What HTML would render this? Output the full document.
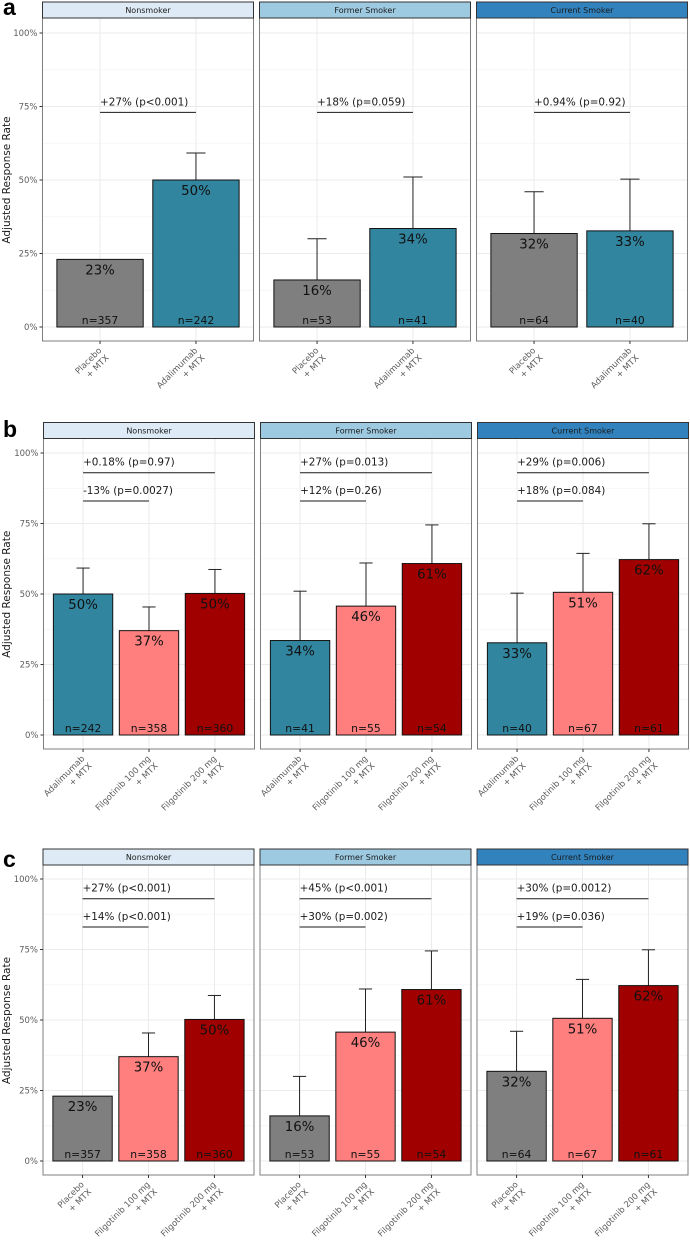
<!DOCTYPE html>
<html>
<head>
<meta charset="utf-8">
<title>Adjusted Response Rate by Smoking Status</title>
<style>
html,body{margin:0;padding:0;background:#fff;width:690px;height:1240px;overflow:hidden}
svg{display:block}
text{font-family:"DejaVu Sans","Liberation Sans",sans-serif}
</style>
</head>
<body>
<svg id="chart" xmlns="http://www.w3.org/2000/svg" width="690" height="1240" viewBox="0 0 690 1240"></svg>
<script>
const facets = ['Nonsmoker', 'Former Smoker', 'Current Smoker'];
const yTicks = [0, 25, 50, 75, 100];
const yMinorTicks = [12.5, 37.5, 62.5, 87.5];
const yTitle = 'Adjusted Response Rate';

const aLetter = 'a';
const aTreatments = ['Placebo', 'Adalimumab'];
const aValues = [[23, 50], [16, 33.5], [31.8, 32.7]];
const aUpper = [[null, 59.2], [30, 51], [46, 50.3]];
const aCounts = [[357, 242], [53, 41], [64, 40]];
const aCompLevels = [73];
const aCompEnds = [1];
const aCompText = [['+27% (p<0.001)'], ['+18% (p=0.059)'], ['+0.94% (p=0.92)']];

const bLetter = 'b';
const bTreatments = ['Adalimumab', 'Filgotinib 100 mg', 'Filgotinib 200 mg'];
const bValues = [[50, 37, 50.2], [33.5, 45.7, 60.8], [32.7, 50.6, 62.2]];
const bUpper = [[59.2, 45.4, 58.7], [51, 61, 74.5], [50.3, 64.4, 74.9]];
const bCounts = [[242, 358, 360], [41, 55, 54], [40, 67, 61]];
const bCompLevels = [93, 83];
const bCompEnds = [2, 1];
const bCompText = [['+0.18% (p=0.97)', '-13% (p=0.0027)'], ['+27% (p=0.013)', '+12% (p=0.26)'], ['+29% (p=0.006)', '+18% (p=0.084)']];

const cLetter = 'c';
const cTreatments = ['Placebo', 'Filgotinib 100 mg', 'Filgotinib 200 mg'];
const cValues = [[23, 37, 50.2], [16, 45.7, 60.8], [31.8, 50.6, 62.2]];
const cUpper = [[null, 45.4, 58.7], [30, 61, 74.5], [46, 64.4, 74.9]];
const cCounts = [[357, 358, 360], [53, 55, 54], [64, 67, 61]];
const cCompLevels = [93, 83];
const cCompEnds = [2, 1];
const cCompText = [['+27% (p<0.001)', '+14% (p<0.001)'], ['+45% (p<0.001)', '+30% (p=0.002)'], ['+30% (p=0.0012)', '+19% (p=0.036)']];

const facetFills = {'Nonsmoker': '#deebf7', 'Former Smoker': '#9ecae1', 'Current Smoker': '#3182bd'};
const barFills = {'Placebo': '#7f7f7f', 'Adalimumab': '#31859f', 'Filgotinib 100 mg': '#ff7f7f', 'Filgotinib 200 mg': '#a00000'};

const root = document.getElementById('chart');
const NS = 'http://www.w3.org/2000/svg';

function mk(tag, attrs, parent) {
  const e = document.createElementNS(NS, tag);
  for (const k in attrs) e.setAttribute(k, attrs[k]);
  parent.appendChild(e);
  return e;
}
function slug(s) {
  return s.toLowerCase().replace(/[^a-z0-9]+/g, '-');
}
function makeX(left, width, count) {
  const unit = width / (count - 1 + 1.2);
  const fn = function (i) { return left + (i + 0.6) * unit; };
  fn.unit = unit;
  return fn;
}
function makeY(y100, y0) {
  return function (v) { return y0 + (y100 - y0) * v / 100; };
}

function drawRow(cfg) {
  const y = makeY(cfg.y100, cfg.y0);
  const row = mk('g', {}, root);
  
  

  const letter = mk('text', {x: cfg.letterX, y: cfg.letterY, 'font-size': 23, 'font-weight': 'bold', fill: '#000', style: 'font-family:"Liberation Sans",sans-serif'}, row);
  letter.textContent = cfg.letter;
  
  

  const midY = (cfg.stripTop + cfg.bottom) / 2 + 8.5;
  const title = mk('text', {x: 0, y: 0, 'font-size': 10.5, fill: '#1a1a1a', 'text-anchor': 'middle', transform: 'translate(10,' + midY + ') rotate(-90)'}, row);
  title.textContent = yTitle;
  
  

  facets.forEach(function (facet, f) {
    const left = cfg.lefts[f];
    const W = 211;
    const x = makeX(left, W, cfg.treatments.length);
    const g = mk('g', {}, row);
    
    

    yMinorTicks.forEach(function (t) {
      const l = mk('line', {x1: left, x2: left + W, y1: y(t), y2: y(t), stroke: '#f3f3f3', 'stroke-width': 0.7}, g);
      
      
    });
    yTicks.forEach(function (t) {
      const l = mk('line', {x1: left, x2: left + W, y1: y(t), y2: y(t), stroke: '#ebebeb', 'stroke-width': 1}, g);
      
      
    });
    cfg.treatments.forEach(function (tr, i) {
      const l = mk('line', {x1: x(i), x2: x(i), y1: cfg.stripBottom, y2: cfg.bottom, stroke: '#ebebeb', 'stroke-width': 1}, g);
      
      
    });

    cfg.treatments.forEach(function (tr, i) {
      const v = cfg.values[f][i];
      const up = cfg.upper[f][i];
      const bw = 0.9 * x.unit;
      const cap = 0.2 * x.unit;
      if (up !== null) {
        const s = mk('line', {x1: x(i), x2: x(i), y1: y(v), y2: y(up), stroke: '#222', 'stroke-width': 1}, g);
        
        
        const c = mk('line', {x1: x(i) - cap / 2, x2: x(i) + cap / 2, y1: y(up), y2: y(up), stroke: '#222', 'stroke-width': 1}, g);
        
        
      }
      const b = mk('rect', {x: x(i) - bw / 2, y: y(v), width: bw, height: y(0) - y(v), fill: barFills[tr], stroke: '#111', 'stroke-width': 1}, g);
      
      

      const pct = mk('text', {x: x(i), y: y(v) + 15, 'font-size': 13.3, fill: '#111', 'text-anchor': 'middle'}, g);
      pct.textContent = Math.round(v) + '%';
      
      

      const n = mk('text', {x: x(i), y: y(0) - 3, 'font-size': 10.8, fill: '#111', 'text-anchor': 'middle'}, g);
      n.textContent = 'n=' + cfg.counts[f][i];
      
      
    });

    cfg.compLevels.forEach(function (lev, k) {
      const end = cfg.compEnds[k];
      const l = mk('line', {x1: x(0), x2: x(end), y1: y(lev), y2: y(lev), stroke: '#1a1a1a', 'stroke-width': 1}, g);
      
      
      const t = mk('text', {x: x(0), y: y(lev) - 7, 'font-size': 10.4, fill: '#1a1a1a'}, g);
      t.textContent = cfg.compText[f][k];
      
      
    });

    const border = mk('rect', {x: left, y: cfg.stripBottom, width: W, height: cfg.bottom - cfg.stripBottom, fill: 'none', stroke: '#7f7f7f', 'stroke-width': 1}, g);
    
    

    const strip = mk('rect', {x: left, y: cfg.stripTop, width: W, height: cfg.stripBottom - cfg.stripTop, fill: facetFills[facet], stroke: '#333', 'stroke-width': 1}, g);
    
    

    const st = mk('text', {x: left + W / 2, y: cfg.stripBottom - 5, 'font-size': 8, fill: '#1a1a1a', 'text-anchor': 'middle'}, g);
    st.textContent = facet;
    
    

    cfg.treatments.forEach(function (tr, i) {
      const tk = mk('line', {x1: x(i), x2: x(i), y1: cfg.bottom, y2: cfg.bottom + 3, stroke: '#333', 'stroke-width': 1}, g);
      
      
      const ax = x(i) + 2;
      const ay = cfg.bottom + 10;
      const t1 = mk('text', {x: 0, y: 0, 'font-size': 8.5, fill: '#5c5c5c', 'text-anchor': 'end', transform: 'translate(' + ax + ',' + ay + ') rotate(-45)'}, g);
      t1.textContent = tr;
      
      
      const t2 = mk('text', {x: 0, y: 0, 'font-size': 8.5, fill: '#5c5c5c', 'text-anchor': 'end', transform: 'translate(' + (ax + 7.3) + ',' + (ay + 7.3) + ') rotate(-45)'}, g);
      t2.textContent = '+ MTX';
      
      
    });

    if (f === 0) {
      yTicks.forEach(function (t) {
        const tk = mk('line', {x1: left - 3, x2: left, y1: y(t), y2: y(t), stroke: '#333', 'stroke-width': 1}, g);
        
        
        const lb = mk('text', {x: left - 5, y: y(t) + 3, 'font-size': 8.5, fill: '#5c5c5c', 'text-anchor': 'end'}, g);
        lb.textContent = t + '%';
        
        
      });
    }
  });
}

drawRow({letter: aLetter, letterX: 3, letterY: 15, lefts: [42.5, 259.5, 476.5], stripTop: 2, stripBottom: 18, bottom: 341, y100: 33, y0: 327,
  treatments: aTreatments, values: aValues, upper: aUpper, counts: aCounts, compLevels: aCompLevels, compEnds: aCompEnds, compText: aCompText});
drawRow({letter: bLetter, letterX: 3, letterY: 437, lefts: [43.5, 260.5, 477.5], stripTop: 422.5, stripBottom: 438.5, bottom: 749, y100: 453, y0: 735,
  treatments: bTreatments, values: bValues, upper: bUpper, counts: bCounts, compLevels: bCompLevels, compEnds: bCompEnds, compText: bCompText});
drawRow({letter: cLetter, letterX: 3, letterY: 867, lefts: [43, 260, 477], stripTop: 849, stripBottom: 865, bottom: 1175, y100: 879, y0: 1161,
  treatments: cTreatments, values: cValues, upper: cUpper, counts: cCounts, compLevels: cCompLevels, compEnds: cCompEnds, compText: cCompText});
</script>
</body>
</html>
